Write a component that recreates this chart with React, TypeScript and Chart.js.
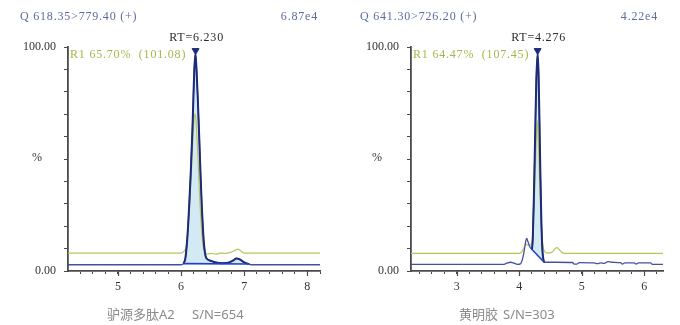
import React, { useEffect, useRef } from "react";
import { Chart, registerables } from "chart.js";

Chart.register(...registerables);

type P = [number, number];

// ---------- Left panel data (驴源多肽A2) ----------
const leftRange: P = [4.21, 8.2];
const leftApex = 6.23;
const leftBlueBefore: P[] = [[4.21, 2.8], [6.0, 2.8], [6.025, 3.0]];
const leftPeak: P[] = [
  [6.04, 3.3], [6.07, 6], [6.1, 15], [6.13, 30], [6.155, 45], [6.18, 63], [6.195, 77],
  [6.21, 90], [6.228, 97], [6.245, 90], [6.265, 77], [6.29, 58], [6.31, 42], [6.33, 28],
  [6.35, 17], [6.37, 10], [6.39, 6.5], [6.42, 5.2], [6.47, 4.6], [6.55, 3.8], [6.65, 3.5],
  [6.75, 3.7], [6.82, 4.6], [6.88, 5.6], [6.93, 5.2], [6.98, 4.2], [7.04, 3.4], [7.08, 3.1],
];
const leftBlueAfter: P[] = [[7.1, 2.8], [8.2, 2.8]];
const leftIntegration: P[] = [[6.04, 3.3], [7.08, 3.1]];
const leftYellow: P[] = [
  [4.21, 8], [6.0, 8], [6.04, 8.6], [6.08, 11], [6.12, 22], [6.16, 42], [6.19, 60],
  [6.215, 70], [6.235, 68], [6.26, 55], [6.29, 36], [6.32, 20], [6.35, 11], [6.38, 8.2],
  [6.42, 7.6], [6.48, 7.9], [6.55, 7.5], [6.62, 8.0], [6.7, 7.9], [6.78, 8.3], [6.86, 9.3],
  [6.9, 9.8], [6.94, 9.2], [6.99, 8.1], [7.05, 8.0], [8.2, 8],
];

// ---------- Right panel data (黄明胶) ----------
const rightRange: P = [2.27, 6.3];
const rightApex = 4.295;
const rightBlueBefore: P[] = [
  [2.27, 3.0], [3.76, 3.0], [3.8, 3.5], [3.86, 3.9], [3.92, 3.5], [3.97, 3.0], [4.02, 3.2],
  [4.05, 5.0], [4.08, 9], [4.1, 12.5], [4.12, 14.5], [4.14, 13.2], [4.17, 10.8],
];
const rightPeak: P[] = [
  [4.205, 9.6], [4.218, 15], [4.235, 33], [4.255, 60], [4.275, 86], [4.295, 97], [4.31, 88],
  [4.325, 66], [4.34, 42], [4.355, 22], [4.37, 10], [4.385, 5.5], [4.4, 3.9],
];
const rightBlueAfter: P[] = [
  [4.6, 3.9], [4.85, 3.8], [4.88, 3.1], [4.92, 3.1], [4.96, 3.7], [5.2, 3.6], [5.25, 3.3],
  [5.3, 3.6], [5.36, 3.4], [5.42, 4.2], [5.48, 3.9], [5.62, 3.7], [5.65, 3.1], [5.69, 3.6],
  [5.84, 3.6], [5.87, 3.1], [5.91, 3.6], [6.1, 3.6], [6.13, 3.0], [6.3, 3.0],
];
const rightIntegration: P[] = [[4.205, 9.6], [4.4, 3.9]];
const rightYellow: P[] = [
  [2.27, 7.9], [4.0, 7.9], [4.04, 8.5], [4.08, 10.5], [4.11, 12], [4.15, 11.5], [4.2, 12],
  [4.24, 30], [4.27, 55], [4.29, 67], [4.31, 55], [4.34, 30], [4.37, 14], [4.4, 9],
  [4.45, 8], [4.52, 8.3], [4.57, 9.8], [4.6, 10.4], [4.64, 9.5], [4.69, 8.2], [4.73, 7.9],
  [6.3, 7.9],
];

// ---------- Ticks / labels ----------
const yTicks = [0, 10, 20, 30, 40, 50, 60, 70, 80, 90, 100];
const xMinorStep = 0.2;

const leftTexts = {
  title: "Q 618.35>779.40 (+)",
  scale: "6.87e4",
  ratio: "R1 65.70%  (101.08)",
  rt: "RT=6.230",
  captionA: "驴源多肽A2",
  captionB: "S/N=654",
};
const rightTexts = {
  title: "Q 641.30>726.20 (+)",
  scale: "4.22e4",
  ratio: "R1 64.47%  (107.45)",
  rt: "RT=4.276",
  captionA: "黄明胶",
  captionB: "S/N=303",
};

const NAVY = "#1e2b78";
const TRACE = "#44529c";
const INTEG = "#1f3fd0";
const FILL = "#d3eaf4";
const YELLOW = "#b9c45a";
const AXIS = "#4a4a4a";
const SERIF = "'Liberation Serif', 'DejaVu Serif', serif";

const toXY = (p: P[]) => p.map(([x, y]) => ({ x, y }));

interface PanelProps {
  left: number;
  range: P;
  apex: number;
  before: P[];
  peak: P[];
  after: P[];
  integration: P[];
  yellow: P[];
  texts: typeof leftTexts;
  yAxisWidth: number;
  rightPad: number;
  captionAX: number;
  captionBX: number;
}

function Panel(props: PanelProps) {
  const ref = useRef<HTMLCanvasElement>(null);
  useEffect(() => {
    const canvas = ref.current;
    if (!canvas) return;
    const { range, apex, before, peak, after, integration, yellow, texts } = props;
    const trace = [...before, ...peak, ...after];
    const minor: number[] = [];
    for (let v = Math.ceil(range[0] / xMinorStep) * xMinorStep; v <= range[1] + 1e-9; v += xMinorStep) {
      minor.push(Math.round(v * 10) / 10);
    }
    const isInt = (v: number) => Math.abs(v - Math.round(v)) < 1e-6;

    const textPlugin = {
      id: "panelTexts",
      afterDraw(chart: any) {
        const ctx: CanvasRenderingContext2D = chart.ctx;
        const xs = chart.scales.x;
        const area = chart.chartArea;
        ctx.save();
        ctx.strokeStyle = AXIS;
        ctx.lineWidth = 1.2;
        minor.filter(isInt).forEach((v) => {
          const px = Math.round(xs.getPixelForValue(v)) + 0.5;
          ctx.beginPath();
          ctx.moveTo(px, area.bottom);
          ctx.lineTo(px, area.bottom + 5);
          ctx.stroke();
        });
        (ctx as any).letterSpacing = "0.8px";
        ctx.textBaseline = "middle";
        ctx.font = `12px ${SERIF}`;
        ctx.fillStyle = "#5d6aa0";
        ctx.textAlign = "left";
        ctx.fillText(texts.title, 20, 17);
        ctx.textAlign = "right";
        ctx.fillText(texts.scale, 318, 17);
        ctx.fillStyle = "#a9b54a";
        ctx.textAlign = "left";
        ctx.fillText(texts.ratio, area.left + 2, 55);
        ctx.fillStyle = "#2a2a2a";
        ctx.textAlign = "center";
        ctx.fillText(texts.rt, xs.getPixelForValue(apex) + 1, 38);
        (ctx as any).letterSpacing = "0px";
        ctx.fillStyle = "#333333";
        ctx.fillText("%", 37, 158);
        ctx.font = "13px 'Noto Sans', 'Noto Sans CJK SC', sans-serif";
        ctx.fillStyle = "#8a8a8a";
        ctx.textAlign = "left";
        ctx.fillText(texts.captionA, props.captionAX, 315);
        ctx.fillText(texts.captionB, props.captionBX, 315);
        ctx.restore();
      },
    };

    const chart = new Chart(canvas, {
      type: "line",
      data: {
        datasets: [
          {
            data: toXY([[apex, 98.4]]),
            showLine: false,
            pointRadius: 4,
            pointStyle: "triangle",
            pointRotation: 180,
            pointBackgroundColor: NAVY,
            pointBorderColor: NAVY,
            borderColor: NAVY,
          } as any,
          {
            data: toXY(integration),
            borderColor: INTEG,
            borderWidth: 1.6,
            pointRadius: 0,
            fill: false,
          },
          {
            data: toXY(peak),
            borderColor: NAVY,
            borderWidth: 2,
            pointRadius: 0,
            fill: 1,
            backgroundColor: FILL,
            cubicInterpolationMode: "monotone",
          },
          {
            data: toXY(trace),
            borderColor: TRACE,
            borderWidth: 1.3,
            pointRadius: 0,
            fill: false,
            cubicInterpolationMode: "monotone",
          },
          {
            data: toXY(yellow),
            borderColor: YELLOW,
            borderWidth: 1.2,
            pointRadius: 0,
            fill: false,
            cubicInterpolationMode: "monotone",
          },
        ],
      },
      options: {
        animation: false,
        responsive: false,
        maintainAspectRatio: false,
        devicePixelRatio: 1,
        events: [],
        layout: { padding: { left: 0, right: props.rightPad, top: 47, bottom: 0 } },
        plugins: {
          legend: { display: false },
          tooltip: { enabled: false },
          title: { display: false },
          filler: { drawTime: "beforeDatasetsDraw" },
        } as any,
        scales: {
          x: {
            type: "linear",
            min: range[0],
            max: range[1],
            afterFit: (s: any) => {
              s.height = 54;
            },
            afterBuildTicks: (s: any) => {
              s.ticks = minor.map((v) => ({ value: v }));
            },
            ticks: {
              autoSkip: false,
              maxRotation: 0,
              padding: 6,
              color: "#333333",
              font: { family: SERIF, size: 12 },
              callback: (v: any) => (isInt(Number(v)) ? String(Math.round(Number(v))) : ""),
            },
            grid: { drawOnChartArea: false, drawTicks: true, tickLength: 3, color: AXIS, tickWidth: 1 },
            border: { display: true, color: AXIS, width: 1.8 },
          },
          y: {
            type: "linear",
            min: 0,
            max: 100,
            afterFit: (s: any) => {
              s.width = props.yAxisWidth;
            },
            afterBuildTicks: (s: any) => {
              s.ticks = yTicks.map((v) => ({ value: v }));
            },
            ticks: {
              autoSkip: false,
              padding: 8,
              color: "#333333",
              font: { family: SERIF, size: 12 },
              callback: (v: any) => (Number(v) === 0 ? "0.00" : Number(v) === 100 ? "100.00" : ""),
            },
            grid: { drawOnChartArea: false, drawTicks: true, tickLength: 4, color: AXIS, tickWidth: 1 },
            border: { display: true, color: AXIS, width: 1.8 },
          },
        },
      } as any,
      plugins: [textPlugin],
    });
    return () => chart.destroy();
  }, []);

  return (
    <canvas
      ref={ref}
      width={340}
      height={325}
      style={{ position: "absolute", left: props.left, top: 0, width: 340, height: 325, display: "block" }}
    />
  );
}

export default function App() {
  return (
    <div style={{ position: "absolute", left: 0, top: 0, width: 680, height: 325, background: "#ffffff" }}>
      <Panel
        left={0}
        range={leftRange}
        apex={leftApex}
        before={leftBlueBefore}
        peak={leftPeak}
        after={leftBlueAfter}
        integration={leftIntegration}
        yellow={leftYellow}
        texts={leftTexts}
        yAxisWidth={68}
        rightPad={20}
        captionAX={107}
        captionBX={192}
      />
      <Panel
        left={340}
        range={rightRange}
        apex={rightApex}
        before={rightBlueBefore}
        peak={rightPeak}
        after={rightBlueAfter}
        integration={rightIntegration}
        yellow={rightYellow}
        texts={rightTexts}
        yAxisWidth={71}
        rightPad={17}
        captionAX={119}
        captionBX={163}
      />
    </div>
  );
}
